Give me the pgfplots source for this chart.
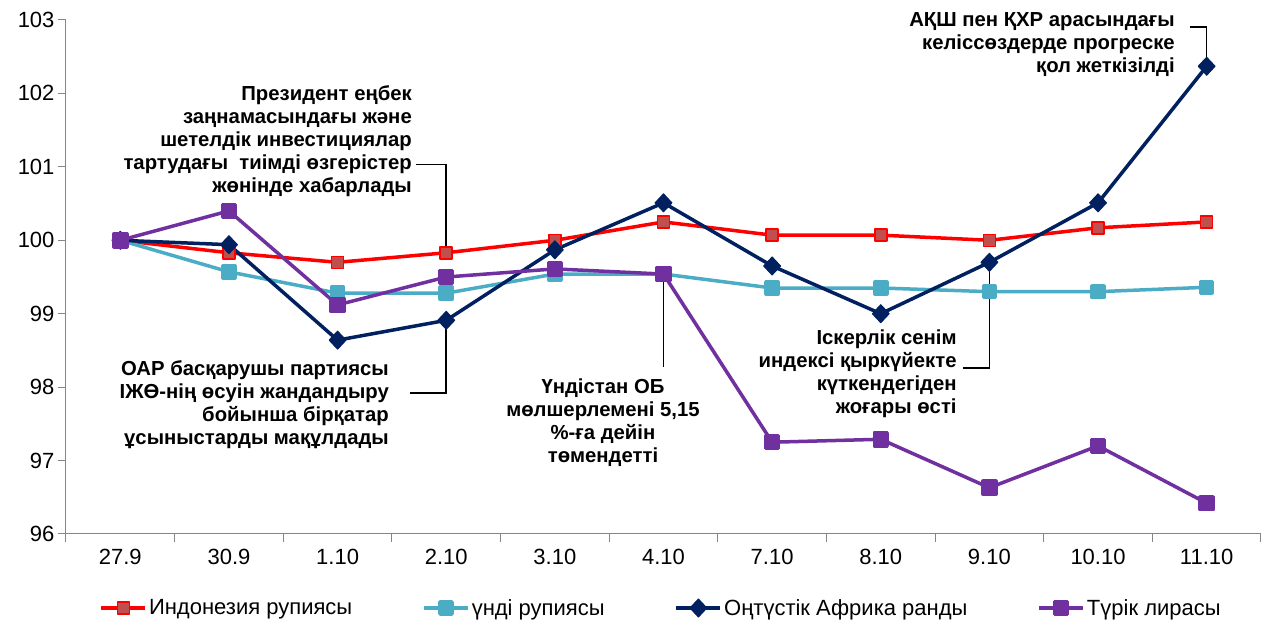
\documentclass[border=0pt]{standalone}
\usepackage{pgfplots}
\pgfplotsset{compat=1.18}
\usepackage{fontspec}
\setmainfont{Liberation Sans}
\definecolor{cred}{HTML}{FF0000}
\definecolor{credfill}{HTML}{C0504D}
\definecolor{cteal}{HTML}{4BACC6}
\definecolor{cnavy}{HTML}{002060}
\definecolor{cpurple}{HTML}{7030A0}
\definecolor{caxis}{HTML}{868686}
\begin{document}
\begin{tikzpicture}
\begin{axis}[
  scale only axis, width=1195pt, height=514pt,
  xmin=-0.5, xmax=10.5, ymin=96, ymax=103,
  axis lines*=left,
  axis line style={caxis, line width=1pt},
  ytick={96,...,103},
  xtick={0,...,10},
  xticklabels={27.9,30.9,1.10,2.10,3.10,4.10,7.10,8.10,9.10,10.10,11.10},
  minor xtick={-0.5,0.5,...,10.5},
  major x tick style={draw=none},
  tick align=outside,
  tick style={caxis, line width=1pt},
  major tick length=8pt, minor tick length=8pt,
  tick label style={font=\fontsize{22}{25}\selectfont},
  xticklabel style={yshift=-4pt},
  /pgf/number format/assume math mode=true,
  clip=false,
  legend style={draw=none, at={(0.498,-0.144)}, anchor=center, legend columns=4,
    font=\fontsize{22}{25}\selectfont,
    /tikz/every even column/.append style={column sep=68pt}},
  legend image code/.code={\draw[mark repeat=2,mark phase=2,#1] plot coordinates {(0pt,0pt) (22pt,0pt) (44pt,0pt)};},
]
\coordinate (O) at (rel axis cs:0,0);
\addplot[cred, line width=3.5pt, line join=round, mark=square*, mark size=6pt, mark options={fill=credfill, draw=cred, line width=1.5pt}] coordinates {
(0,100) (1,99.83) (2,99.70) (3,99.83) (4,100.0) (5,100.25) (6,100.07) (7,100.07) (8,100.0) (9,100.17) (10,100.25)};
\addlegendentry{Индонезия рупиясы}
\addplot[cteal, line width=3.5pt, line join=round, mark=square*, mark size=6pt, mark options={fill=cteal, draw=cteal}] coordinates {
(0,100) (1,99.57) (2,99.28) (3,99.28) (4,99.54) (5,99.54) (6,99.35) (7,99.35) (8,99.30) (9,99.30) (10,99.36)};
\addlegendentry{үнді рупиясы}
\addplot[cnavy, line width=3.5pt, line join=round, mark=diamond*, mark size=9pt, mark options={fill=cnavy, draw=cnavy, line width=1pt, xscale=1.25}] coordinates {
(0,100) (1,99.94) (2,98.64) (3,98.91) (4,99.87) (5,100.51) (6,99.65) (7,99.00) (8,99.70) (9,100.51) (10,102.37)};
\addlegendentry{Оңтүстік Африка ранды}
\addplot[cpurple, line width=3.5pt, line join=round, mark=square*, mark size=6.5pt, mark options={fill=cpurple, draw=cpurple}] coordinates {
(0,100) (1,100.40) (2,99.12) (3,99.50) (4,99.61) (5,99.54) (6,97.25) (7,97.29) (8,96.63) (9,97.20) (10,96.42)};
\addlegendentry{Түрік лирасы}

\begin{scope}[every node/.style={font=\fontsize{20.3}{23}\selectfont\bfseries, inner sep=0pt}]
\node[anchor=east, align=right] at (axis cs:2.685,101.345) {Президент еңбек\\заңнамасындағы және\\шетелдік инвестициялар\\тартудағы \ тиімді өзгерістер\\жөнінде хабарлады};
\node[anchor=east, align=right] at (axis cs:2.473,97.757) {ОАР басқарушы партиясы\\ІЖӨ-нің өсуін жандандыру\\бойынша бірқатар\\ұсыныстарды мақұлдады};
\node[anchor=center, align=center] at (axis cs:4.443,97.512) {Үндістан ОБ\\мөлшерлемені 5,15\\\%-ға дейін\\төмендетті};
\node[anchor=east, align=right] at (axis cs:7.70,98.18) {Іскерлік сенім\\индексі қыркүйекте\\күткендегіден\\жоғары өсті};
\node[anchor=east, align=right] at (axis cs:9.708,102.66) {АҚШ пен ҚХР арасындағы\\келіссөздерде прогреске\\қол жеткізілді};
\end{scope}
\draw[black, line width=1.5pt] (axis cs:2.72,101.03) -- (axis cs:3,101.03) -- (axis cs:3,99.88);
\draw[black, line width=1.5pt] (axis cs:2.666,97.92) -- (axis cs:3,97.92) -- (axis cs:3,98.91);
\draw[black, line width=1.5pt] (axis cs:5,99.54) -- (axis cs:5,98.27);
\draw[black, line width=1.5pt] (axis cs:7.757,98.26) -- (axis cs:8,98.26) -- (axis cs:8,99.70);
\draw[black, line width=1.5pt] (axis cs:9.846,102.905) -- (axis cs:10,102.905) -- (axis cs:10,102.37);
\end{axis}
\pgfresetboundingbox
\path (O) ++(-66pt,-92pt) rectangle ++(1261pt,626pt);
\end{tikzpicture}
\end{document}
